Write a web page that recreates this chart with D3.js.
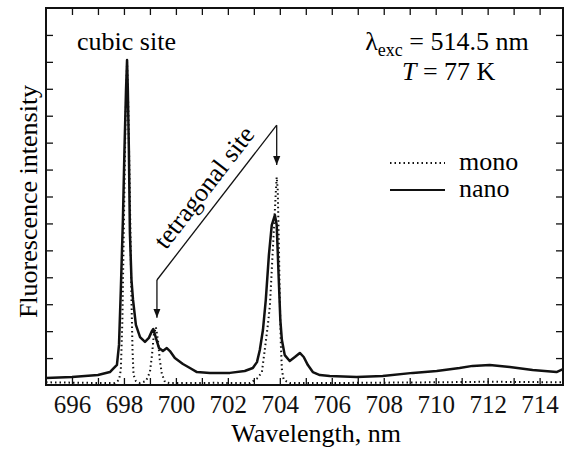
<!DOCTYPE html>
<html>
<head>
<meta charset="utf-8">
<script src="https://cdn.jsdelivr.net/npm/d3@7/dist/d3.min.js"></script>
<style>
  body { margin: 0; background: #fff; }
</style>
</head>
<body>
<svg id="chart" width="565" height="452" font-family="Liberation Serif"></svg>
<script>
// wavelength (nm) / intensity pairs
var nanoX = [695.0, 696.0, 697.0, 697.46, 697.58, 697.73, 697.81, 697.88, 697.96, 698.02, 698.08, 698.12,
  698.15, 698.19, 698.23, 698.29, 698.35, 698.46, 698.62, 698.81, 698.96, 699.08, 699.13, 699.23, 699.35,
  699.5, 699.65, 699.77, 699.96, 700.27, 700.54, 700.81, 701.31, 702.08, 702.65, 702.96, 703.12, 703.23,
  703.35, 703.46, 703.58, 703.69, 703.81, 703.88, 703.96, 704.02, 704.08, 704.19, 704.38, 704.58, 704.77,
  704.92, 705.08, 705.27, 705.54, 705.92, 706.96, 707.96, 709.12, 710.04, 710.92, 711.42, 712.08, 712.85,
  713.73, 714.65, 714.9];
var nanoY = [0.26, 0.30, 0.37, 0.48, 0.6, 0.75, 1.49, 3.53, 6.13, 8.73, 10.95, 12.07,
  10.95, 8.73, 5.64, 3.9, 3.16, 2.23, 1.78, 1.6, 1.75, 2.01, 2.08, 1.75, 1.37,
  1.26, 1.37, 1.26, 1.0, 0.78, 0.63, 0.48, 0.45, 0.45, 0.52, 0.63, 0.85, 1.3,
  2.04, 3.16, 4.83, 5.94, 6.31, 5.94, 3.9, 2.41, 1.67, 1.11, 0.89, 1.04, 1.19,
  1.04, 0.74, 0.48, 0.37, 0.33, 0.3, 0.33, 0.45, 0.52, 0.63, 0.71, 0.74, 0.67,
  0.56, 0.48, 0.59];

var monoX = [695.0, 696.5, 697.65, 697.81, 697.88, 697.94, 698.0, 698.06, 698.12, 698.17, 698.23, 698.29,
  698.33, 698.37, 698.46, 698.62, 698.85, 699.0, 699.08, 699.15, 699.23, 699.31, 699.38, 699.46, 699.58,
  699.77, 701.5, 702.85, 703.15, 703.31, 703.42, 703.54, 703.62, 703.69, 703.77, 703.85, 703.88, 703.92,
  703.96, 704.0, 704.04, 704.08, 704.15, 704.38, 707.0, 710.0, 712.0, 714.9];
var monoY = [0.1, 0.08, 0.07, 0.19, 0.56, 2.41, 6.13, 9.84, 12.0, 10.2, 6.87, 3.16,
  1.3, 0.37, 0.15, 0.07, 0.15, 0.48, 1.11, 1.86, 2.15, 1.67, 0.93, 0.41, 0.11,
  0.07, 0.08, 0.07, 0.26, 0.48, 1.3, 2.23, 2.97, 4.27, 5.76, 7.24, 7.72, 7.24,
  5.38, 3.16, 1.49, 0.56, 0.19, 0.07, 0.08, 0.1, 0.12, 0.1];

var xTicks = d3.range(696, 715, 1);
var xLabels = d3.range(696, 715, 2);
var yTicks = d3.range(1, 14, 1);

var margin = {top: 8, right: 2, bottom: 67, left: 46};
var width = 565 - margin.left - margin.right;
var height = 452 - margin.top - margin.bottom;
var fs = 26;

var svg = d3.select("#chart")
  .append("g")
  .attr("transform", "translate(" + margin.left + "," + margin.top + ")");

var x = d3.scaleLinear().domain([695, 714.9]).range([0, width]);
var y = d3.scaleLinear().domain([0, 14]).range([height, 0]);

var nano = nanoX.map((d, i) => ({x: d, y: nanoY[i]}));
var mono = monoX.map((d, i) => ({x: d, y: monoY[i]}));

var line = d3.line().x(d => x(d.x)).y(d => y(d.y));

svg.append("defs").append("marker")
  .attr("id", "arrow")
  .attr("viewBox", "0 0 10 10")
  .attr("refX", 10).attr("refY", 5)
  .attr("markerWidth", 9).attr("markerHeight", 9)
  .attr("markerUnits", "userSpaceOnUse")
  .attr("orient", "auto")
  .append("path")
  .attr("d", "M0,1 L10,5 L0,9 Z")
  .attr("fill", "#111");

/* data lines */
svg.append("path")
  .datum(mono)
  .attr("d", line)
  .attr("fill", "none")
  .attr("stroke", "#111")
  .attr("stroke-width", 2)
  .attr("stroke-dasharray", "1.5,3");

svg.append("path")
  .datum(nano)
  .attr("d", line)
  .attr("fill", "none")
  .attr("stroke", "#111")
  .attr("stroke-width", 2.5)
  .attr("stroke-linejoin", "round");

/* axes: inward ticks on all four sides */
var tk = 7;
svg.append("g")
  .attr("transform", "translate(0," + height + ")")
  .call(d3.axisBottom(x).tickValues(xTicks).tickSizeInner(-tk).tickSizeOuter(0)
    .tickFormat(d => xLabels.indexOf(d) >= 0 ? d : ""))
  .call(g => g.selectAll("text").attr("dy", "1.0em").attr("font-size", 25).attr("fill", "#111"));
svg.append("g")
  .call(d3.axisTop(x).tickValues(xTicks).tickSizeInner(-tk).tickSizeOuter(0).tickFormat(""));
svg.append("g")
  .call(d3.axisLeft(y).tickValues(yTicks).tickSizeInner(-tk).tickSizeOuter(0).tickFormat(""));
svg.append("g")
  .attr("transform", "translate(" + width + ",0)")
  .call(d3.axisRight(y).tickValues(yTicks).tickSizeInner(-tk).tickSizeOuter(0).tickFormat(""));
svg.selectAll("g").attr("font-family", "Liberation Serif");
svg.selectAll(".domain").remove();
svg.selectAll(".tick line").attr("stroke", "#111").attr("stroke-width", 1.3);

svg.append("rect")
  .attr("width", width).attr("height", height)
  .attr("fill", "none").attr("stroke", "#111").attr("stroke-width", 2);

/* axis titles */
svg.append("text")
  .attr("x", x(705.4)).attr("y", height + 57)
  .attr("text-anchor", "middle").attr("font-size", fs)
  .text("Wavelength, nm");
svg.append("text")
  .attr("transform", "translate(-9," + (height / 2 + 5) + ") rotate(-90)")
  .attr("text-anchor", "middle").attr("font-size", fs)
  .text("Fluorescence intensity");

/* annotations */
svg.append("text")
  .attr("x", x(698.1)).attr("y", 42)
  .attr("text-anchor", "middle").attr("font-size", fs)
  .text("cubic site");

var cond = svg.append("text")
  .attr("x", x(710.43)).attr("y", 42)
  .attr("text-anchor", "middle").attr("font-size", fs);
cond.append("tspan").text("\u03bb");
cond.append("tspan").text("exc").attr("font-size", 18).attr("dy", 6);
cond.append("tspan").text(" = 514.5 nm").attr("dy", -6);
var temp = svg.append("text")
  .attr("x", x(710.5)).attr("y", 72)
  .attr("text-anchor", "middle").attr("font-size", fs);
temp.append("tspan").text("T").attr("font-style", "italic");
temp.append("tspan").text(" = 77 K");

// bracket for the tetragonal site
var ax1 = 699.27, ax2 = 703.88, yTop1 = 3.9, yTop2 = 9.65;
svg.append("line")
  .attr("x1", x(ax1)).attr("y1", y(yTop1))
  .attr("x2", x(ax1)).attr("y2", y(2.5))
  .attr("stroke", "#111").attr("stroke-width", 1.3)
  .attr("marker-end", "url(#arrow)");
svg.append("line")
  .attr("x1", x(ax1)).attr("y1", y(yTop1))
  .attr("x2", x(ax2)).attr("y2", y(yTop2))
  .attr("stroke", "#111").attr("stroke-width", 1.3);
svg.append("line")
  .attr("x1", x(ax2)).attr("y1", y(yTop2))
  .attr("x2", x(ax2)).attr("y2", y(8.17))
  .attr("stroke", "#111").attr("stroke-width", 1.3)
  .attr("marker-end", "url(#arrow)");

var ang = Math.atan2(y(yTop2) - y(yTop1), x(ax2) - x(ax1)) * 180 / Math.PI;
var mx = (x(ax1) + x(ax2)) / 2 - 6, my = (y(yTop1) + y(yTop2)) / 2 - 10;
svg.append("text")
  .attr("transform", "translate(" + mx + "," + my + ") rotate(" + ang + ")")
  .attr("text-anchor", "middle").attr("font-size", fs)
  .text("tetragonal site");

/* legend */
var legend = svg.append("g").attr("transform", "translate(" + (390 - margin.left) + "," + (163 - margin.top) + ")");
legend.append("line")
  .attr("x1", 0).attr("x2", 55).attr("y1", 0).attr("y2", 0)
  .attr("stroke", "#111").attr("stroke-width", 1.8).attr("stroke-dasharray", "1.5,3");
legend.append("line")
  .attr("x1", 0).attr("x2", 55).attr("y1", 27).attr("y2", 27)
  .attr("stroke", "#111").attr("stroke-width", 2.2);
legend.append("text").attr("x", 69).attr("y", 7).attr("font-size", fs).text("mono");
legend.append("text").attr("x", 69).attr("y", 34).attr("font-size", fs).text("nano");
</script>
</body>
</html>
